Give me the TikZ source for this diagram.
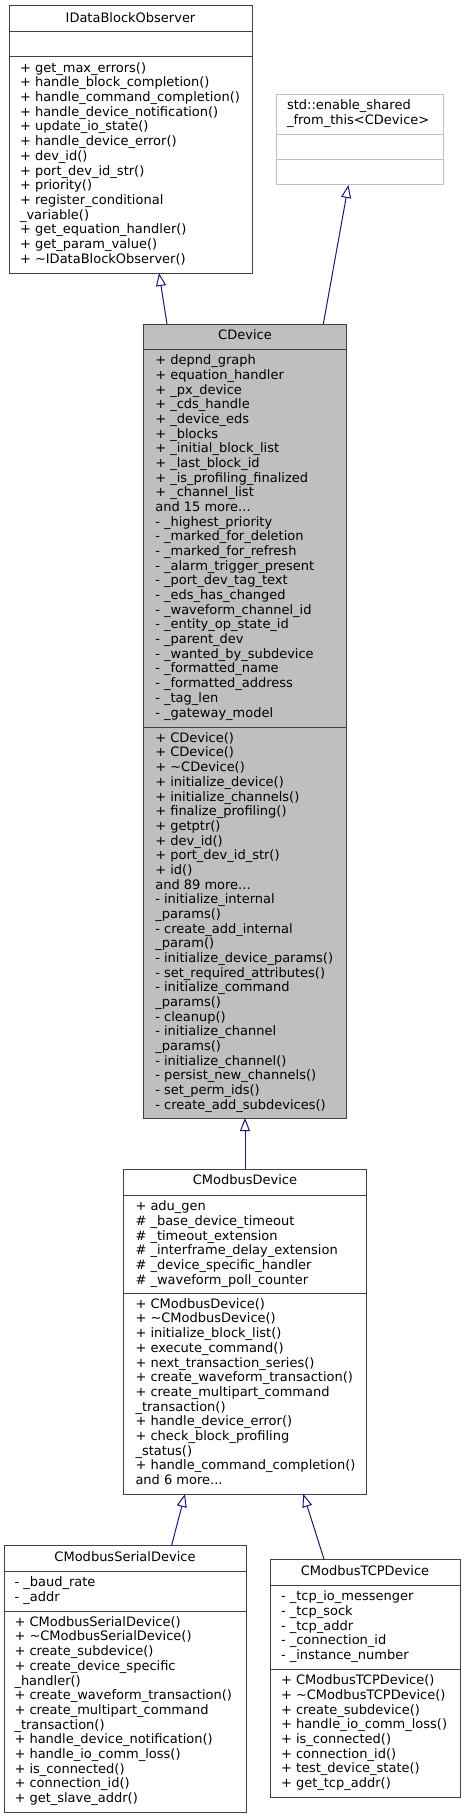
\documentclass[tikz,border=0pt]{standalone}
\usepackage{fontspec}
\setmainfont{DejaVu Sans}
\usetikzlibrary{arrows.meta}
\definecolor{boxline}{HTML}{404040}
\definecolor{lightline}{HTML}{BFBFBF}
\definecolor{curfill}{HTML}{BFBFBF}
\definecolor{edgeblue}{HTML}{191970}
\tikzset{
  cls/.style={draw=boxline, line width=1pt, anchor=north west, inner sep=0pt, outer sep=0pt},
  sep/.style={draw=boxline, line width=1pt},
  txt/.style={anchor=north west, inner sep=0pt, outer sep=0pt, align=left, font=\fontsize{13}{14.68}\selectfont},
  ttl/.style={anchor=north, inner sep=0pt, outer sep=0pt, align=center, font=\fontsize{13}{14.68}\selectfont},
  inh/.style={draw=edgeblue, line width=1pt, -{Triangle[length=13pt, width=10pt, fill=white]}}
}
\begin{document}
\begin{tikzpicture}[x=1pt,y=-1pt]
\useasboundingbox (0,0) rectangle (465,1819);

% IDataBlockObserver
\node[cls, minimum width=243pt, minimum height=267pt] (idbo) at (9,6) {};
\draw[sep] (9,32) -- (252,32);
\draw[sep] (9,57) -- (252,57);
\node[ttl] (idbo-t) at (130.5,12.2) {\strut IDataBlockObserver};
\node[txt] (idbo-m) at (20,62) {\strut + get\_max\_errors()\\
+ handle\_block\_completion()\\
+ handle\_command\_completion()\\
+ handle\_device\_notification()\\
+ update\_io\_state()\\
+ handle\_device\_error()\\
+ dev\_id()\\
+ port\_dev\_id\_str()\\
+ priority()\\
+ register\_conditional\\
\_variable()\\
+ get\_equation\_handler()\\
+ get\_param\_value()\\
+ \textasciitilde IDataBlockObserver()};

% std::enable_shared_from_this
\node[cls, draw=lightline, minimum width=166.3pt, minimum height=90pt] (esft) at (276.7,95) {};
\draw[sep, draw=lightline] (276.7,135) -- (443,135);
\draw[sep, draw=lightline] (276.7,160) -- (443,160);
\node[txt] (esft-t) at (287,99.7) {\strut std::enable\_shared\\\_from\_this<CDevice>};

% CDevice
\node[cls, fill=curfill, minimum width=203.4pt, minimum height=794pt] (cdev) at (143.3,324) {};
\draw[sep] (143.3,349) -- (346.7,349);
\draw[sep] (143.3,727) -- (346.7,727);
\node[ttl] (cdev-t) at (245,329.7) {\strut CDevice};
\node[txt] (cdev-a) at (155.3,354.4) {\strut + depnd\_graph\\
+ equation\_handler\\
+ \_px\_device\\
+ \_cds\_handle\\
+ \_device\_eds\\
+ \_blocks\\
+ \_initial\_block\_list\\
+ \_last\_block\_id\\
+ \_is\_profiling\_finalized\\
+ \_channel\_list\\
and 15 more...\\
- \_highest\_priority\\
- \_marked\_for\_deletion\\
- \_marked\_for\_refresh\\
- \_alarm\_trigger\_present\\
- \_port\_dev\_tag\_text\\
- \_eds\_has\_changed\\
- \_waveform\_channel\_id\\
- \_entity\_op\_state\_id\\
- \_parent\_dev\\
- \_wanted\_by\_subdevice\\
- \_formatted\_name\\
- \_formatted\_address\\
- \_tag\_len\\
- \_gateway\_model};
\node[txt] (cdev-m) at (155.3,732) {\strut + CDevice()\\
+ CDevice()\\
+ \textasciitilde CDevice()\\
+ initialize\_device()\\
+ initialize\_channels()\\
+ finalize\_profiling()\\
+ getptr()\\
+ dev\_id()\\
+ port\_dev\_id\_str()\\
+ id()\\
and 89 more...\\
- initialize\_internal\\
\_params()\\
- create\_add\_internal\\
\_param()\\
- initialize\_device\_params()\\
- set\_required\_attributes()\\
- initialize\_command\\
\_params()\\
- cleanup()\\
- initialize\_channel\\
\_params()\\
- initialize\_channel()\\
- persist\_new\_channels()\\
- set\_perm\_ids()\\
- create\_add\_subdevices()};

% CModbusDevice
\node[cls, minimum width=243.4pt, minimum height=325pt] (cmod) at (123.3,1169) {};
\draw[sep] (123.3,1195) -- (366.7,1195);
\draw[sep] (123.3,1293) -- (366.7,1293);
\node[ttl] (cmod-t) at (245,1174.7) {\strut CModbusDevice};
\node[txt] (cmod-a) at (135.5,1200.4) {\strut + adu\_gen\\
\# \_base\_device\_timeout\\
\# \_timeout\_extension\\
\# \_interframe\_delay\_extension\\
\# \_device\_specific\_handler\\
\# \_waveform\_poll\_counter};
\node[txt] (cmod-m) at (135.5,1298) {\strut + CModbusDevice()\\
+ \textasciitilde CModbusDevice()\\
+ initialize\_block\_list()\\
+ execute\_command()\\
+ next\_transaction\_series()\\
+ create\_waveform\_transaction()\\
+ create\_multipart\_command\\
\_transaction()\\
+ handle\_device\_error()\\
+ check\_block\_profiling\\
\_status()\\
+ handle\_command\_completion()\\
and 6 more...};

% CModbusSerialDevice
\node[cls, minimum width=241.7pt, minimum height=267pt] (cser) at (4.3,1545) {};
\draw[sep] (4.3,1571) -- (246,1571);
\draw[sep] (4.3,1611) -- (246,1611);
\node[ttl] (cser-t) at (125,1551.4) {\strut CModbusSerialDevice};
\node[txt] (cser-a) at (14.5,1576.4) {\strut - \_baud\_rate\\
- \_addr};
\node[txt] (cser-m) at (14.5,1616) {\strut + CModbusSerialDevice()\\
+ \textasciitilde CModbusSerialDevice()\\
+ create\_subdevice()\\
+ create\_device\_specific\\
\_handler()\\
+ create\_waveform\_transaction()\\
+ create\_multipart\_command\\
\_transaction()\\
+ handle\_device\_notification()\\
+ handle\_io\_comm\_loss()\\
+ is\_connected()\\
+ connection\_id()\\
+ get\_slave\_addr()};

% CModbusTCPDevice
\node[cls, minimum width=190.7pt, minimum height=238pt] (ctcp) at (270,1559) {};
\draw[sep] (270,1585) -- (460.7,1585);
\draw[sep] (270,1669) -- (460.7,1669);
\node[ttl] (ctcp-t) at (365,1565.7) {\strut CModbusTCPDevice};
\node[txt] (ctcp-a) at (281,1590.4) {\strut - \_tcp\_io\_messenger\\
- \_tcp\_sock\\
- \_tcp\_addr\\
- \_connection\_id\\
- \_instance\_number};
\node[txt] (ctcp-m) at (281,1674.4) {\strut + CModbusTCPDevice()\\
+ \textasciitilde CModbusTCPDevice()\\
+ create\_subdevice()\\
+ handle\_io\_comm\_loss()\\
+ is\_connected()\\
+ connection\_id()\\
+ test\_device\_state()\\
+ get\_tcp\_addr()};

% inheritance connectors
\draw[inh] ([xshift=23.7pt]cdev.north west) -- ([xshift=150pt]idbo.south west);
\draw[inh] ([xshift=180pt]cdev.north west) -- ([xshift=71.7pt]esft.south west);
\draw[inh] (cmod.north) -- (cdev.south);
\draw[inh] ([xshift=167.4pt]cser.north west) -- ([xshift=61.7pt]cmod.south west);
\draw[inh] ([xshift=54pt]ctcp.north west) -- ([xshift=180pt]cmod.south west);
\end{tikzpicture}
\end{document}
